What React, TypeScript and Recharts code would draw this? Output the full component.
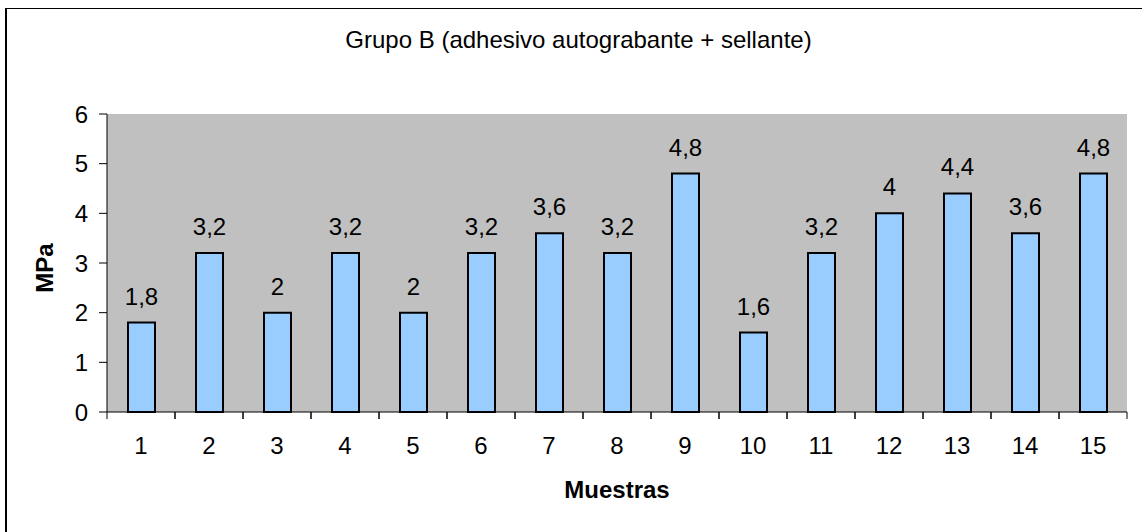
import React from 'react';
import { BarChart, Bar, XAxis, YAxis, CartesianGrid, LabelList } from 'recharts';

const categories = ['1', '2', '3', '4', '5', '6', '7', '8', '9', '10', '11', '12', '13', '14', '15'];
const values = [1.8, 3.2, 2, 3.2, 2, 3.2, 3.6, 3.2, 4.8, 1.6, 3.2, 4, 4.4, 3.6, 4.8];
const yTicks = [0, 1, 2, 3, 4, 5, 6];
const title = 'Grupo B (adhesivo autograbante + sellante)';
const xLabel = 'Muestras';
const yLabel = 'MPa';

const data = categories.map((c, i) => ({ name: c, value: values[i] }));

const W = 1142;
const H = 532;
const M = { top: 114, right: 15, left: 0, bottom: 80 };
const Y_W = 107;
const X_H = 40;
const BAND = (W - M.left - M.right - Y_W) / categories.length;
const FONT = '"Liberation Sans", Arial, sans-serif';
const FS = 24;

const XTick = (props: any) => {
  const { x, y, payload } = props;
  return (
    <g>
      <line x1={x - BAND / 2} x2={x - BAND / 2} y1={y} y2={y + 7} stroke="#000" strokeWidth={1} />
      <line x1={x + BAND / 2} x2={x + BAND / 2} y1={y} y2={y + 7} stroke="#000" strokeWidth={1} />
      <text x={x} y={y + 42} textAnchor="middle" fontSize={FS} fontFamily={FONT} fill="#000">
        {payload.value}
      </text>
    </g>
  );
};

export default function App() {
  return (
    <div style={{ position: 'absolute', left: 0, top: 0, width: W, height: H, background: '#fff', fontFamily: FONT, overflow: 'hidden' }}>
      <div style={{ position: 'absolute', left: 5, top: 8, width: W - 5, height: H - 8, borderLeft: '2px solid #000', borderTop: '1px solid #000', boxSizing: 'border-box' }} />
      <div style={{ position: 'absolute', left: 0, top: 27.7, width: 1157, textAlign: 'center', fontSize: FS, lineHeight: FS + 'px', color: '#000', whiteSpace: 'nowrap' }}>{title}</div>
      <div style={{ position: 'absolute', left: 0, top: 477.7, width: 1234, textAlign: 'center', fontSize: FS, lineHeight: FS + 'px', fontWeight: 'bold', color: '#000' }}>{xLabel}</div>
      <div style={{ position: 'absolute', left: 45 - 50, top: 268 - FS / 2, width: 100, height: FS, textAlign: 'center', fontSize: FS, lineHeight: FS + 'px', fontWeight: 'bold', color: '#000', transform: 'rotate(-90deg)' }}>{yLabel}</div>
      <div style={{ position: 'absolute', left: 0, top: 0 }}>
        <BarChart width={W} height={H} data={data} margin={M} barCategoryGap="0%">
          <CartesianGrid horizontal={false} vertical={false} fill="#C0C0C0" />
          <XAxis xAxisId="top" orientation="top" dataKey="name" height={0} tick={false} tickLine={false} axisLine={{ stroke: '#808080', strokeWidth: 1.5 }} />
          <YAxis yAxisId="right" orientation="right" width={0} domain={[0, 6]} ticks={yTicks} tick={false} tickLine={false} axisLine={{ stroke: '#808080', strokeWidth: 1.5 }} />
          <XAxis dataKey="name" height={X_H} tickSize={0} tickMargin={0} tickLine={false} axisLine={{ stroke: '#000', strokeWidth: 1 }} tick={<XTick />} interval={0} />
          <YAxis domain={[0, 6]} ticks={yTicks} width={Y_W} tickSize={8} tickMargin={11} tickLine={{ stroke: '#000' }} axisLine={{ stroke: '#000', strokeWidth: 1 }} tick={{ fontSize: FS, fill: '#000', fontFamily: FONT }} interval={0} />
          <Bar dataKey="value" fill="#99CCFF" stroke="#000" strokeWidth={2} barSize={27} isAnimationActive={false}>
            <LabelList dataKey="value" position="top" offset={18} fill="#000" fontSize={FS} fontFamily={FONT} formatter={(v: any) => String(v).replace('.', ',')} />
          </Bar>
        </BarChart>
      </div>
    </div>
  );
}
